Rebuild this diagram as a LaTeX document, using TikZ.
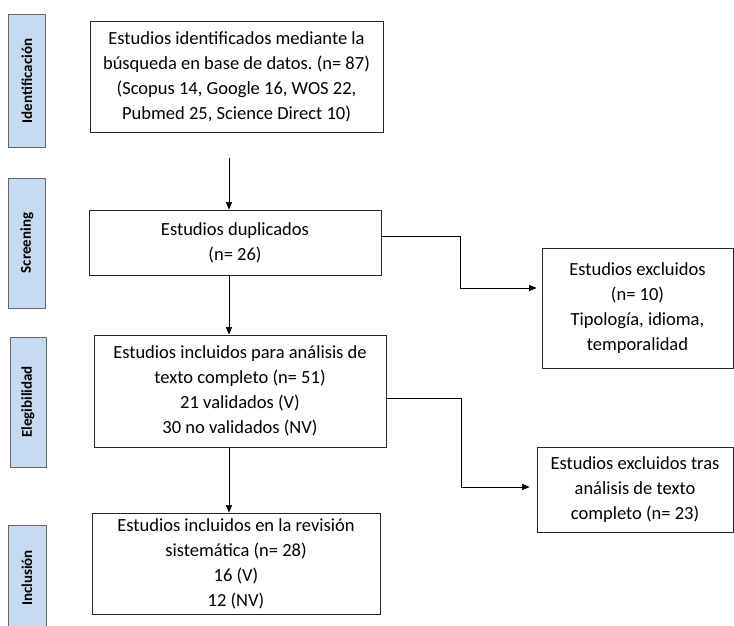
\documentclass[tikz,border=0pt]{standalone}
\usepackage{fontspec}
\setmainfont{Carlito}
\usetikzlibrary{arrows}
\definecolor{phaseblue}{RGB}{198,218,242}
\frenchspacing

\begin{document}
\begin{tikzpicture}[x=1pt,y=-1pt, line width=0.8pt,
  box/.style={draw=black!85, line width=1pt, align=center, inner sep=0pt, font=\fontsize{18.5}{25}\selectfont},
  phase/.style={draw=black!60, fill=phaseblue, line width=1pt, rotate=90, inner sep=0pt, font=\fontsize{15}{17}\bfseries\selectfont},
  arr/.style={-triangle 45, line width=0.7pt}]
\useasboundingbox (0,0) rectangle (734,626);

\node[phase, minimum height=37pt, minimum width=132pt] (pid) at (27,81) {Identificación};
\node[phase, minimum height=37pt, minimum width=130pt] (psc) at (27,243) {Screening};
\node[phase, minimum height=36pt, minimum width=130pt] (pel) at (28,402) {Elegibilidad};
\node[phase, minimum height=38pt, minimum width=106pt] (pin) at (27,578) {Inclusión};

\node[box, minimum width=293pt, minimum height=110pt] (ident) at (236.5,77)
  {Estudios identificados mediante la\\búsqueda en base de datos. (n= 87)\\(Scopus 14, Google 16, WOS 22,\\Pubmed 25, Science Direct 10)};
\node[box, minimum width=292pt, minimum height=65pt] (dupl) at (235,242.5)
  {Estudios duplicados\\(n= 26)};
\node[box, minimum width=292pt, minimum height=112pt] (eleg) at (240,391)
  {Estudios incluidos para análisis de\\texto completo (n= 51)\\21 validados (V)\\30 no validados (NV)};
\node[box, minimum width=288pt, minimum height=101pt] (incl) at (236,563.5)
  {Estudios incluidos en la revisión\\sistemática (n= 28)\\16 (V)\\12 (NV)};
\node[box, minimum width=191pt, minimum height=120pt] (excl) at (637.5,308)
  {Estudios excluidos\\(n= 10)\\Tipología, idioma,\\temporalidad};
\node[box, minimum width=196pt, minimum height=85pt] (exclt) at (635,489.5)
  {Estudios excluidos tras\\análisis de texto\\completo (n= 23)};

\coordinate (start) at (229,158);
\draw[arr] (start) -- (dupl.north -| start);
\draw[arr] (dupl.south -| start) -- (eleg.north -| start);
\draw[arr] (eleg.south -| start) -- (incl.north -| start);
\draw[arr, shorten >=5pt] ([yshift=6pt]dupl.east) -- ++(79,0) |- ([yshift=20pt]excl.west);
\draw[arr, shorten >=7pt] ([yshift=-7pt]eleg.east) -- ++(75,0) |- ([yshift=2.5pt]exclt.west);
\end{tikzpicture}
\end{document}
